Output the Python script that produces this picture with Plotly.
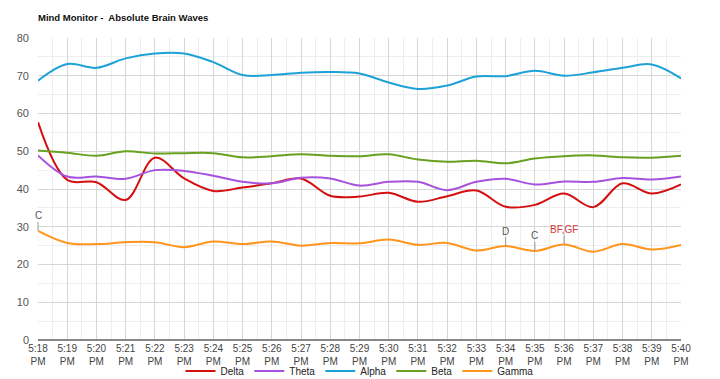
import plotly.graph_objects as go

times = ["5:18 PM", "5:19 PM", "5:20 PM", "5:21 PM", "5:22 PM", "5:23 PM", "5:24 PM",
         "5:25 PM", "5:26 PM", "5:27 PM", "5:28 PM", "5:29 PM", "5:30 PM", "5:31 PM",
         "5:32 PM", "5:33 PM", "5:34 PM", "5:35 PM", "5:36 PM", "5:37 PM", "5:38 PM",
         "5:39 PM", "5:40 PM"]

delta = [57.7, 42.4, 41.8, 37.1, 48.3, 42.8, 39.5, 40.4, 41.5, 42.8, 38.2, 38.0,
         39.0, 36.6, 38.1, 39.6, 35.3, 35.8, 38.8, 35.2, 41.5, 38.8, 41.2]
theta = [48.9, 43.3, 43.3, 42.7, 45.0, 44.8, 43.5, 41.9, 41.5, 43.0, 42.8, 40.9,
         41.9, 41.9, 39.7, 41.9, 42.7, 41.2, 42.0, 41.9, 42.9, 42.5, 43.3]
alpha = [68.7, 73.1, 72.1, 74.6, 75.9, 75.9, 73.6, 70.2, 70.2, 70.8, 71.0, 70.6,
         68.2, 66.5, 67.4, 69.8, 69.9, 71.3, 70.0, 70.9, 72.1, 73.0, 69.3]
beta = [50.2, 49.6, 48.8, 50.0, 49.4, 49.5, 49.5, 48.4, 48.7, 49.2, 48.8, 48.7,
        49.2, 47.8, 47.2, 47.5, 46.8, 48.1, 48.7, 48.9, 48.4, 48.3, 48.8]
gamma = [28.9, 25.7, 25.4, 25.9, 25.9, 24.6, 26.1, 25.4, 26.1, 25.0, 25.7, 25.6,
         26.6, 25.2, 25.7, 23.7, 24.9, 23.6, 25.3, 23.4, 25.4, 24.0, 25.2]

series = [("Delta", delta, "#d40f0f"),
          ("Theta", theta, "#a752de"),
          ("Alpha", alpha, "#1da2d8"),
          ("Beta", beta, "#68a020"),
          ("Gamma", gamma, "#ff951c")]

# annotations on the Gamma series: (time, text, colour)
notes = [("5:18 PM", "C", "#555555"),
         ("5:34 PM", "D", "#555555"),
         ("5:35 PM", "C", "#555555"),
         ("5:36 PM", "BF,GF", "#d23a3a")]

y_ticks = [0, 10, 20, 30, 40, 50, 60, 70, 80]

xs = list(range(len(times)))
font_family = "Arial, Liberation Sans, sans-serif"

fig = go.Figure()
for name, vals, col in series:
    fig.add_trace(go.Scatter(x=xs, y=vals, name=name, mode="lines",
                             line=dict(color=col, width=2, shape="spline", smoothing=1.0)))

for t, txt, col in notes:
    i = times.index(t)
    fig.add_annotation(x=xs[i], y=gamma[i], text=txt, showarrow=True, arrowhead=0,
                       arrowwidth=1, arrowcolor="#999999", ax=0, ay=-15,
                       font=dict(size=10, color=col, family=font_family), borderpad=0)

fig.update_layout(
    width=720, height=379,
    margin=dict(l=38, r=39, t=38, b=39, autoexpand=False),
    paper_bgcolor="white", plot_bgcolor="white",
    font=dict(family=font_family, size=10, color="#444444"),
    title=dict(text="Mind Monitor -\u00a0 Absolute Brain Waves", x=38 / 720, xref="container",
               y=1 - 18 / 379, yref="container", yanchor="middle", xanchor="left",
               font=dict(size=9.5, color="#111111", family=font_family, weight="bold")),
    showlegend=True,
    legend=dict(orientation="h", x=0.5, xanchor="center", y=-0.1026, yanchor="middle",
                font=dict(size=10, color="#222222"), itemwidth=30, tracegroupgap=0,
                bgcolor="rgba(0,0,0,0)"),
)

fig.update_xaxes(range=[0, len(times) - 1], tickmode="array", tickvals=xs,
                 ticktext=[t.replace(" ", "<br>") for t in times],
                 showgrid=True, gridcolor="#d6d6d6", gridwidth=1,
                 minor=dict(dtick=0.5, tick0=0, showgrid=True, gridcolor="#eeeeee", gridwidth=1),
                 showline=False, zeroline=False, ticks="", ticklabelstandoff=1,
                 automargin=False,
                 tickfont=dict(size=10, color="#444444"), fixedrange=True)
fig.update_yaxes(range=[0, 80], tickmode="array", tickvals=y_ticks,
                 showgrid=True, gridcolor="#d6d6d6", gridwidth=1,
                 minor=dict(dtick=5, tick0=0, showgrid=True, gridcolor="#eeeeee", gridwidth=1),
                 zeroline=True, zerolinecolor="#888888", zerolinewidth=1.5,
                 showline=False, ticks="", ticklabelstandoff=8, automargin=False,
                 tickfont=dict(size=11, color="#555555"), fixedrange=True)

fig.write_html("out.html", config={"displayModeBar": False},
               post_script="document.body.style.margin='0px';document.body.style.overflow='hidden';")
